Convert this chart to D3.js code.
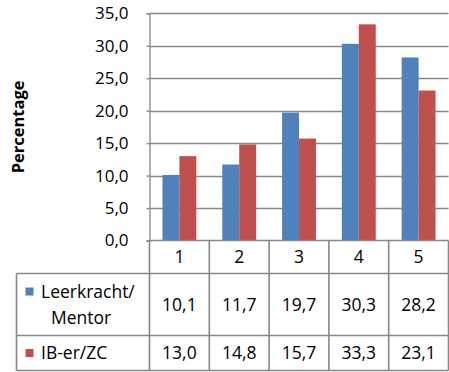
<!DOCTYPE html>
<html>
<head>
<meta charset="utf-8">
<script src="https://cdn.jsdelivr.net/npm/d3@7"></script>
<style>
  html, body { margin: 0; padding: 0; background: #fff; }
  svg { display: block; }
  text { font-family: "Open Sans", "Liberation Sans", sans-serif; fill: #000; }
</style>
</head>
<body>
<svg id="chart" width="449" height="372"></svg>
<script>
const categories = ["1", "2", "3", "4", "5"];
const seriesNames = [["Leerkracht/", "Mentor"], ["IB-er/ZC"]];
const seriesColors = ["#4F81BD", "#C0504D"];
const leerkrachtValues = [10.1, 11.7, 19.7, 30.3, 28.2];
const iberValues = [13.0, 14.8, 15.7, 33.3, 23.1];
const yTicks = [0, 5, 10, 15, 20, 25, 30, 35];
const yLabel = "Percentage";

const series = [leerkrachtValues, iberValues];
const fmt = v => v.toFixed(1).replace(".", ",");

const svg = d3.select("#chart");
const plotLeft = 149.5, plotRight = 448.5, plotTop = 13.3, plotBottom = 240.5;
const tableLeft = 16.5;
const headerBottom = 273.5, row1Bottom = 335.5, row2Bottom = 370.5;
const gridColor = "#878787";
const fontSize = 17.5;

const x = d3.scaleBand().domain(categories).range([plotLeft, plotRight])
  .paddingInner(0.4333).paddingOuter(0.21667);
const xs = d3.scaleBand().domain(d3.range(series.length)).range([0, x.bandwidth()]);
const y = d3.scaleLinear().domain([0, 35]).range([plotBottom, plotTop]);

// gridlines
svg.append("g").selectAll("line").data(yTicks.filter(t => t > 0)).join("line")
  .attr("x1", plotLeft).attr("x2", plotRight)
  .attr("y1", d => Math.round(y(d)) + 0.5).attr("y2", d => Math.round(y(d)) + 0.5)
  .attr("stroke", gridColor).attr("stroke-width", 1.3);

// y axis
const yAxis = d3.axisLeft(y).tickValues(yTicks).tickFormat(fmt).tickSize(3).tickPadding(18);
const gy = svg.append("g").attr("transform", `translate(${plotLeft},0)`).call(yAxis);
gy.select(".domain").attr("stroke", gridColor).attr("stroke-width", 1.3);
gy.selectAll(".tick line").attr("stroke", gridColor).attr("stroke-width", 1.3);
gy.selectAll(".tick text").attr("font-size", 17).attr("font-family", "Open Sans, sans-serif").attr("fill", "#000");

// y label
svg.append("text")
  .attr("transform", `translate(24,${(plotTop + plotBottom) / 2}) rotate(-90)`)
  .attr("text-anchor", "middle").attr("font-weight", "bold").attr("font-size", 16.5)
  .text(yLabel);

// bars
series.forEach((vals, si) => {
  svg.append("g").selectAll("rect").data(vals).join("rect")
    .attr("x", (d, i) => x(categories[i]) + xs(si))
    .attr("width", xs.bandwidth())
    .attr("y", d => y(d))
    .attr("height", d => y(0) - y(d))
    .attr("fill", seriesColors[si]);
});

// table lines
const lines = svg.append("g").attr("stroke", gridColor).attr("stroke-width", 1.6);
lines.append("line").attr("x1", plotLeft).attr("x2", plotRight).attr("y1", plotBottom).attr("y2", plotBottom);
[headerBottom, row1Bottom, row2Bottom].forEach(yy => {
  lines.append("line").attr("x1", tableLeft).attr("x2", plotRight).attr("y1", yy).attr("y2", yy);
});
lines.append("line").attr("x1", tableLeft).attr("x2", tableLeft).attr("y1", headerBottom).attr("y2", row2Bottom);
categories.forEach(c => {
  lines.append("line").attr("x1", x(c) - x.step() * x.paddingOuter()).attr("x2", x(c) - x.step() * x.paddingOuter())
    .attr("y1", plotBottom).attr("y2", row2Bottom);
});
lines.append("line").attr("x1", plotRight).attr("x2", plotRight).attr("y1", plotBottom).attr("y2", row2Bottom);

// category labels
svg.append("g").selectAll("text").data(categories).join("text")
  .attr("x", d => x(d) + x.bandwidth() / 2).attr("y", (plotBottom + headerBottom) / 2)
  .attr("dy", "0.35em").attr("text-anchor", "middle").attr("font-size", fontSize)
  .text(d => d);

// rows
const rowCenters = [(headerBottom + row1Bottom) / 2, (row1Bottom + row2Bottom) / 2];
series.forEach((vals, si) => {
  const cy = rowCenters[si];
  svg.append("g").selectAll("text").data(vals).join("text")
    .attr("x", (d, i) => x(categories[i]) + x.bandwidth() / 2).attr("y", cy)
    .attr("dy", "0.35em").attr("text-anchor", "middle").attr("font-size", fontSize)
    .text(fmt);
  // legend key
  const names = seriesNames[si];
  const firstLineY = names.length > 1 ? cy - 13 : cy;
  svg.append("rect").attr("x", 25.5).attr("y", firstLineY - 4).attr("width", 8).attr("height", 8)
    .attr("fill", seriesColors[si]);
  names.forEach((n, li) => {
    const t = svg.append("text").attr("font-size", fontSize).attr("dy", "0.35em")
      .attr("y", firstLineY + li * 26).text(n);
    if (li === 0) t.attr("x", 41);
    else t.attr("x", 81).attr("text-anchor", "middle");
  });
});
</script>
</body>
</html>
